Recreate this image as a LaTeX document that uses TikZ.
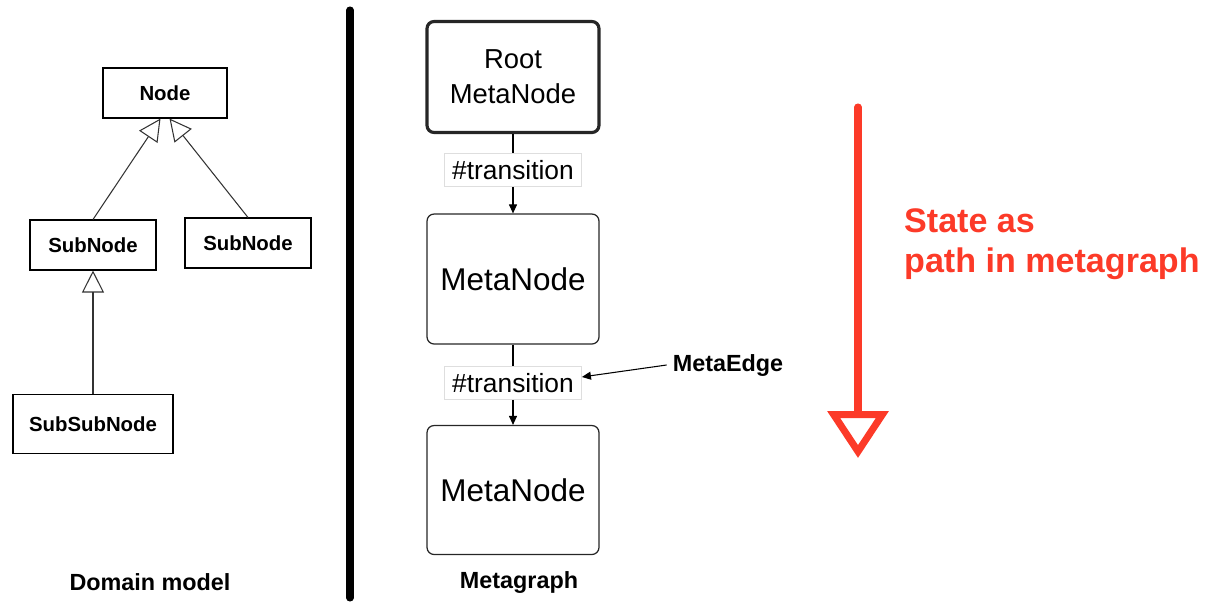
\documentclass[tikz,border=0pt]{standalone}
\usepackage{fontspec}
\setmainfont{Liberation Sans}
\usepackage{tikz}
\usetikzlibrary{arrows.meta}
\definecolor{statered}{RGB}{252,58,40}
\definecolor{labgray}{RGB}{222,222,222}
\tikzset{
  umlbox/.style={draw=black, line width=0.6pt, fill=white,
                 minimum height=1cm, inner sep=0pt,
                 font=\bfseries\fontsize{11.6}{14}\selectfont},
  metabox/.style={draw=black!85, line width=0.7pt, rounded corners=4pt,
                  minimum width=3.44cm, inner sep=0pt, align=center,
                  font=\fontsize{17.9}{21}\selectfont},
  rootbox/.style={metabox, line width=1.8pt,
                  font=\fontsize{15.6}{20}\selectfont},
  edgelab/.style={draw=labgray, line width=0.5pt, fill=white,
                  minimum width=2.74cm, minimum height=0.66cm, inner sep=0pt,
                  font=\fontsize{15}{18}\selectfont},
  caption/.style={font=\bfseries\fontsize{13.3}{16}\selectfont},
  inherit/.style={-{Triangle[open,length=4.4mm,width=4.4mm]},
                  draw=black!80, line width=0.6pt},
  flow/.style={-{Triangle[length=1.8mm,width=1.6mm]}, line width=0.6pt},
  divider/.style={black, line width=4pt, line cap=round},
  statepath/.style={statered, line width=4pt, line cap=round,
                    -{Triangle[open,length=9.4mm,width=12mm]}},
}

\begin{document}
\begin{tikzpicture}[x=0.02cm,y=-0.02cm]
  \path[use as bounding box] (0,0) rectangle (1205,603);

  % domain model
  \node[umlbox, minimum width=2.48cm] (node) at (165,93) {Node};
  \node[umlbox, minimum width=2.52cm] (sub1) at (93,245) {SubNode};
  \node[umlbox, minimum width=2.52cm] (sub2) at (248,243) {SubNode};
  \node[umlbox, minimum width=3.2cm, minimum height=1.18cm] (subsub) at (93,424) {SubSubNode};
  \draw[inherit] (sub1.north) -- (node.260);
  \draw[inherit] (sub2.north) -- (node.280);
  \draw[inherit] (subsub.north) -- (sub1.south);
  \node[caption] (dmcap) at (150,582) {Domain model};

  \draw[divider] (350,10) -- (350,598);

  % metagraph
  \node[rootbox, minimum height=2.22cm] (root) at (513,77) {Root\\MetaNode};
  \node[edgelab] (t1) at (513,170) {\#transition};
  \node[metabox, minimum height=2.6cm] (meta1) at (513,279) {MetaNode};
  \node[edgelab] (t2) at (513,383) {\#transition};
  \node[metabox, minimum height=2.58cm] (meta2) at (513,490) {MetaNode};
  \draw[line width=0.6pt] (root.south) -- (t1.north);
  \draw[flow] (t1.south) -- (meta1.north);
  \draw[line width=0.6pt] (meta1.south) -- (t2.north);
  \draw[flow] (t2.south) -- (meta2.north);
  \node[caption] (edgecap) at (728,365) {MetaEdge};
  \draw[flow] (edgecap.west) -- (t2.5);
  \node[caption] (mgcap) at (519,582) {Metagraph};

  % state as path
  \coordinate (statetop) at (858,107);
  \coordinate (statebot) at (858,458);
  \draw[statepath] (statetop) -- (statebot);
  \node[anchor=west, align=left, text=statered,
        font=\bfseries\fontsize{19.4}{22.8}\selectfont] (statelab) at (898,244)
    {State as\\path in metagraph};
\end{tikzpicture}
\end{document}
